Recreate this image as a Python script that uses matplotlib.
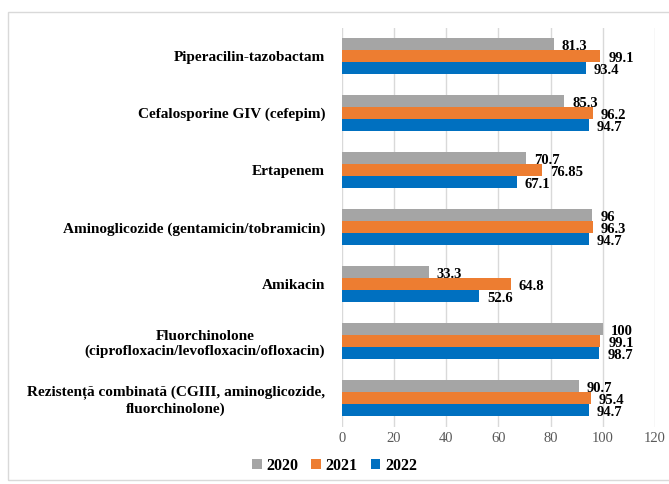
import numpy as np
import matplotlib.pyplot as plt
from matplotlib.patches import Rectangle

# data
categories = [
    "Piperacilin-tazobactam",
    "Cefalosporine GIV (cefepim)",
    "Ertapenem",
    "Aminoglicozide (gentamicin/tobramicin)",
    "Amikacin",
    "Fluorchinolone\n(ciprofloxacin/levofloxacin/ofloxacin)",
    "Rezistență combinată (CGIII, aminoglicozide,\nfluorchinolone)",
]
years = ["2020", "2021", "2022"]
v2020 = [81.3, 85.3, 70.7, 96, 33.3, 100, 90.7]
v2021 = [99.1, 96.2, 76.85, 96.3, 64.8, 99.1, 95.4]
v2022 = [93.4, 94.7, 67.1, 94.7, 52.6, 98.7, 94.7]
colors = ["#A5A5A5", "#ED7D31", "#0070C0"]

plt.rcParams['font.family'] = ['Liberation Serif', 'DejaVu Serif']

fig = plt.figure(figsize=(6.69, 4.84), dpi=100)
ax = fig.add_axes([0.511, 0.118, 0.468, 0.825])

# light frame around the chart
fig.patches.append(Rectangle((8 / 669, 4 / 484), 1, 468 / 484, transform=fig.transFigure,
                             fill=False, edgecolor='#d9d9d9', linewidth=1))

y = np.arange(len(categories))
h = 0.21
series = [v2020, v2021, v2022]
for i, (vals, col, yr) in enumerate(zip(series, colors, years)):
    pos = y + (i - 1) * h
    ax.barh(pos, vals, height=h, color=col, label=yr, zorder=3)
    for p, v in zip(pos, vals):
        ax.text(v + 3, p + 0.04, f"{v:g}", va='center', ha='left',
                fontsize=10.5, fontweight='bold', zorder=4)

ax.set_ylim(len(categories) - 0.5, -0.5)
ax.set_xlim(0, 120)
ax.set_xticks(np.arange(0, 121, 20))
ax.set_yticks(y)
ax.set_yticklabels(categories, fontsize=11, fontweight='bold', multialignment='center')
ax.tick_params(axis='x', labelsize=10.5, length=0, pad=4, colors='#595959')
ax.tick_params(axis='y', length=0, pad=12)
ax.grid(axis='x', color='#d9d9d9', linewidth=1, zorder=0)
for s in ax.spines.values():
    s.set_visible(False)

fig.legend(loc='center', bbox_to_anchor=(0.5, 1 - 466 / 484), ncol=3, frameon=False,
           prop={'weight': 'bold', 'size': 11.5}, handlelength=0.6, handleheight=0.6,
           columnspacing=0.8, handletextpad=0.3)

fig.savefig('out.png', dpi=100)
